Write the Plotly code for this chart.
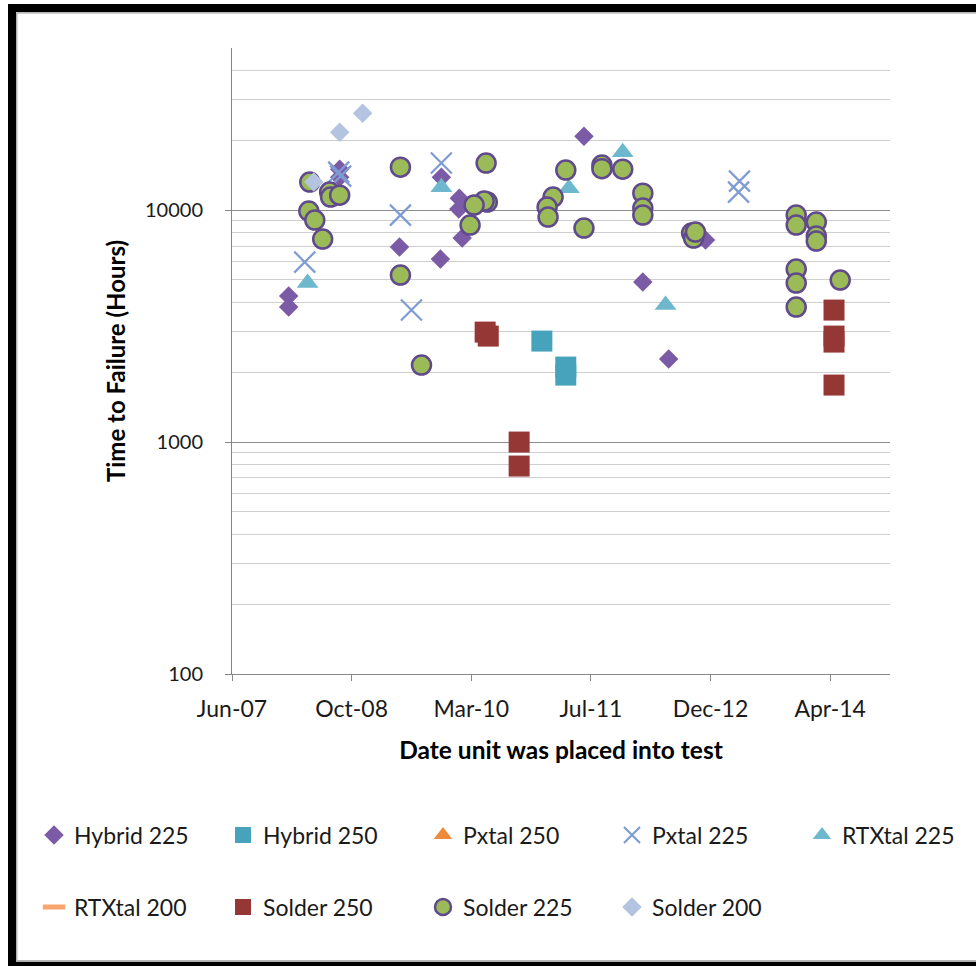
import math
import plotly.graph_objects as go

# ---------------- data ----------------
hybrid225_dates = ["2008-02-07", "2008-02-07", "2008-09-07", "2008-09-07", "2009-05-15", "2009-11-02",
                   "2009-11-06", "2010-01-20", "2010-01-18", "2010-02-01", "2011-06-25", "2012-02-26",
                   "2012-06-13", "2012-11-14"]
hybrid225_vals = [4260, 3820, 15020, 13875, 6926, 6148, 13875, 11264, 10100, 7573, 20840, 4895, 2279, 7425]

hybrid250_dates = ["2010-12-31", "2011-04-10", "2011-04-10"]
hybrid250_vals = [2725, 2105, 1944]

# series present in the legend only (no plotted values)
pxtal250_dates = [None]
pxtal250_vals = [None]

pxtal225_dates = ["2008-04-14", "2008-09-03", "2008-09-11", "2009-05-19", "2009-07-04", "2009-11-06",
                  "2013-04-05", "2013-04-01"]
pxtal225_vals = [5968, 14580, 14016, 9516, 3707, 15950, 13335, 11957]

rtxtal225_dates = ["2008-04-26", "2009-11-06", "2011-04-23", "2011-12-04", "2012-05-31"]
rtxtal225_vals = [4846, 12564, 12440, 17783, 3895]

rtxtal200_dates = [None]
rtxtal200_vals = [None]

solder250_dates = ["2010-05-08", "2010-05-21", "2010-09-27", "2010-09-27", "2014-05-05", "2014-05-05",
                   "2014-05-05", "2014-05-05"]
solder250_vals = [2979, 2863, 1000, 788, 3707, 2863, 2698, 1761]

solder225_dates = ["2008-05-05", "2008-07-27", "2008-07-31", "2008-09-07", "2008-05-01", "2008-05-26",
                   "2008-06-28", "2009-05-19", "2009-05-19", "2009-08-15", "2010-05-12", "2010-05-17",
                   "2010-05-04", "2010-03-23", "2010-03-06", "2011-04-10", "2011-02-16", "2011-01-22",
                   "2011-01-26", "2011-06-25", "2011-09-08", "2011-09-08", "2011-12-04", "2012-02-26",
                   "2012-02-26", "2012-02-26", "2012-09-17", "2012-09-25", "2012-10-03", "2013-11-28",
                   "2013-11-28", "2014-02-20", "2014-02-20", "2014-02-20", "2013-11-28", "2013-11-28",
                   "2013-11-28", "2014-05-31"]
solder225_vals = [13205, 11957, 11377, 11604, 9901, 9056,
                  7499, 15320, 5245, 2147, 15950, 10826,
                  10934, 10509, 8618, 14875, 11377, 10302,
                  9329, 8364, 15640, 15090, 15020, 11837,
                  10200, 9516, 7962, 7573, 8038, 9516,
                  8618, 8878, 7727, 7354, 5568, 4846,
                  3819, 4993]

solder200_dates = ["2008-12-12", "2008-09-07", "2008-05-22"]
solder200_vals = [26190, 21690, 13205]

x_start, x_end = "2007-06-15", "2014-12-25"
y_min, y_max = 100, 50000

# ---------------- figure ----------------
W, H = 976, 966
L, R, T, B = 232, 86, 48, 292
PW, PH = W - L - R, H - T - B

FONT = "Lato, 'Open Sans', sans-serif"
TXT = "#1a1a1a"

fig = go.Figure()

# legend slot for each series: (legend id, symbol centre x, row centre y) in pixels
slots = {
    "Hybrid 225": ("legend", 54, 835),
    "Hybrid 250": ("legend2", 243, 835),
    "Pxtal 250": ("legend3", 443, 835),
    "Pxtal 225": ("legend4", 632, 835),
    "RTXtal 225": ("legend5", 822, 835),
    "RTXtal 200": ("legend6", 54, 907),
    "Solder 250": ("legend7", 243, 907),
    "Solder 225": ("legend8", 443, 907),
    "Solder 200": ("legend9", 632, 907),
}

def add(name, xs, ys, **marker):
    fig.add_trace(go.Scatter(x=xs, y=ys, mode="markers", name=name, legend=slots[name][0],
                             marker=marker, showlegend=True))

add("Hybrid 225", hybrid225_dates, hybrid225_vals,
    symbol="diamond", size=15, color="#7B5BA6", line=dict(width=0))
add("Hybrid 250", hybrid250_dates, hybrid250_vals,
    symbol="square", size=21, color="#47A3BB", line=dict(width=0))
add("Pxtal 250", pxtal250_dates, pxtal250_vals,
    symbol="triangle-up", size=19, color="#EE8A3A", line=dict(width=0))
add("Pxtal 225", pxtal225_dates, pxtal225_vals,
    symbol="x-thin-open", size=21, color="#7F9BD4", line=dict(width=2.2, color="#7F9BD4"))
add("RTXtal 225", rtxtal225_dates, rtxtal225_vals,
    symbol="triangle-up", size=19, color="#6DB8CC", line=dict(width=0))
add("RTXtal 200", rtxtal200_dates, rtxtal200_vals,
    symbol="line-ew-open", size=16, color="#F9A66E", line=dict(width=5, color="#F9A66E"))
add("Solder 250", solder250_dates, solder250_vals,
    symbol="square", size=21, color="#953735", line=dict(width=0))
add("Solder 225", solder225_dates, solder225_vals,
    symbol="circle", size=19, color="#9BBB59", line=dict(width=2.5, color="#604A8B"))
add("Solder 200", solder200_dates, solder200_vals,
    symbol="diamond", size=15, color="#B3C3E0", line=dict(width=0))

DAY_MS = 86400000

legend_cfg = {}
for name, (lid, cx, cy) in slots.items():
    legend_cfg[lid] = dict(orientation="h", xref="container", yref="container",
                           x=(cx - 20) / W, y=1 - cy / H, xanchor="left", yanchor="middle",
                           font=dict(size=23, family=FONT, color=TXT),
                           bgcolor="rgba(0,0,0,0)", borderwidth=0)

fig.update_layout(
    width=W, height=H,
    margin=dict(l=L, r=R, t=T, b=B),
    paper_bgcolor="white", plot_bgcolor="white",
    font=dict(family=FONT, color=TXT, size=18),
    xaxis=dict(
        type="date", range=[x_start, x_end],
        tick0=x_start, dtick=500 * DAY_MS, tickformat="%b-%y",
        showgrid=False, zeroline=False,
        showline=True, linecolor="#868686", linewidth=1,
        ticks="outside", ticklen=6, tickcolor="#868686",
        ticklabelstandoff=8,
        tickfont=dict(size=23, family=FONT, color=TXT),
        title=dict(text="<b>Date unit was placed into test</b>",
                   font=dict(size=24.5, family=FONT, color="#000"), standoff=21),
    ),
    yaxis=dict(
        type="log", range=[math.log10(y_min), math.log10(y_max)],
        dtick=1, tickformat="d",
        showgrid=True, gridcolor="#8C8C8C", gridwidth=1,
        minor=dict(dtick="D1", showgrid=True, gridcolor="#CFCFCF", gridwidth=1, ticks=""),
        zeroline=False,
        showline=True, linecolor="#868686", linewidth=1,
        ticks="outside", ticklen=6, tickcolor="#868686",
        ticklabelstandoff=18,
        tickfont=dict(size=20, family=FONT, color=TXT),
        title=dict(text="<b>Time to Failure (Hours)</b>",
                   font=dict(size=24, family=FONT, color="#000"), standoff=12),
    ),
    **legend_cfg,
)

# chart-area frame (thick black border with thin grey inner line)
def px_x(p):
    return (p - L) / PW

def px_y(p):
    return (H - B - p) / PH

fig.add_shape(type="rect", xref="paper", yref="paper",
              x0=px_x(12), x1=px_x(W + 30), y0=px_y(8), y1=px_y(965.7),
              line=dict(color="black", width=8), fillcolor="rgba(0,0,0,0)", layer="above")
fig.add_shape(type="rect", xref="paper", yref="paper",
              x0=px_x(16.8), x1=px_x(W + 30), y0=px_y(12.8), y1=px_y(960.8),
              line=dict(color="#A0A0A0", width=1.2), fillcolor="rgba(0,0,0,0)", layer="above")

fig.write_html("out.html", config={"displayModeBar": False},
               post_script="document.body.style.margin='0';")
